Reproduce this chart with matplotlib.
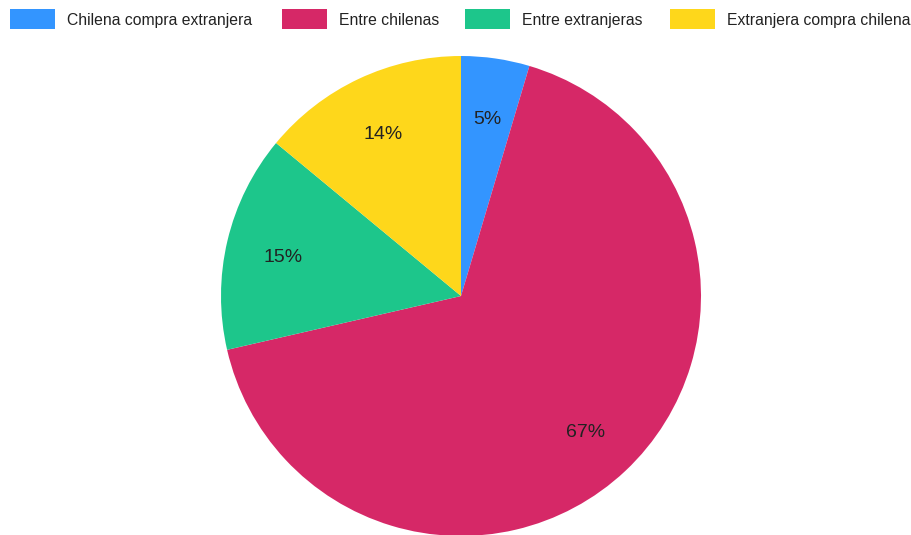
import matplotlib
matplotlib.use("Agg")
import matplotlib.pyplot as plt
from matplotlib.patches import Rectangle

plt.rcParams['font.family'] = ['Liberation Sans', 'DejaVu Sans']

categories = ["Chilena compra extranjera", "Entre chilenas", "Entre extranjeras", "Extranjera compra chilena"]
values = [4.6, 66.8, 14.6, 14.0]
colors = ["#3395FF", "#D62867", "#1DC68B", "#FED71B"]

W, H = 912, 535
fig = plt.figure(figsize=(W / 100, H / 100), dpi=100)

# pie centred at (461, 296) px with 240 px radius
cx, cy, r = 461, 296, 240
ax = fig.add_axes([(cx - r) / W, (H - cy - r) / H, 2 * r / W, 2 * r / H])
wedges, texts, autotexts = ax.pie(
    values, colors=colors, startangle=90, counterclock=False,
    autopct='%.0f%%', pctdistance=0.76,
    textprops=dict(fontsize=14, color='#222222'),
    wedgeprops=dict(linewidth=0))
for t in autotexts:
    x, y = t.get_position()
    t.set_position((x, y - 3.5 / r))
ax.set_xlim(-1, 1)
ax.set_ylim(-1, 1)
ax.set_aspect('equal')
ax.axis('off')

# legend row along the top
box_x = [10, 282, 465, 670]
for x0, label, c in zip(box_x, categories, colors):
    fig.patches.append(Rectangle((x0 / W, 1 - 29 / H), 45 / W, 20 / H,
                                 transform=fig.transFigure, facecolor=c,
                                 edgecolor='none'))
    fig.text((x0 + 57) / W, 1 - 25 / H, label, fontsize=11.3,
             color='#222222', va='baseline', ha='left')

fig.savefig("out.png", dpi=100)
